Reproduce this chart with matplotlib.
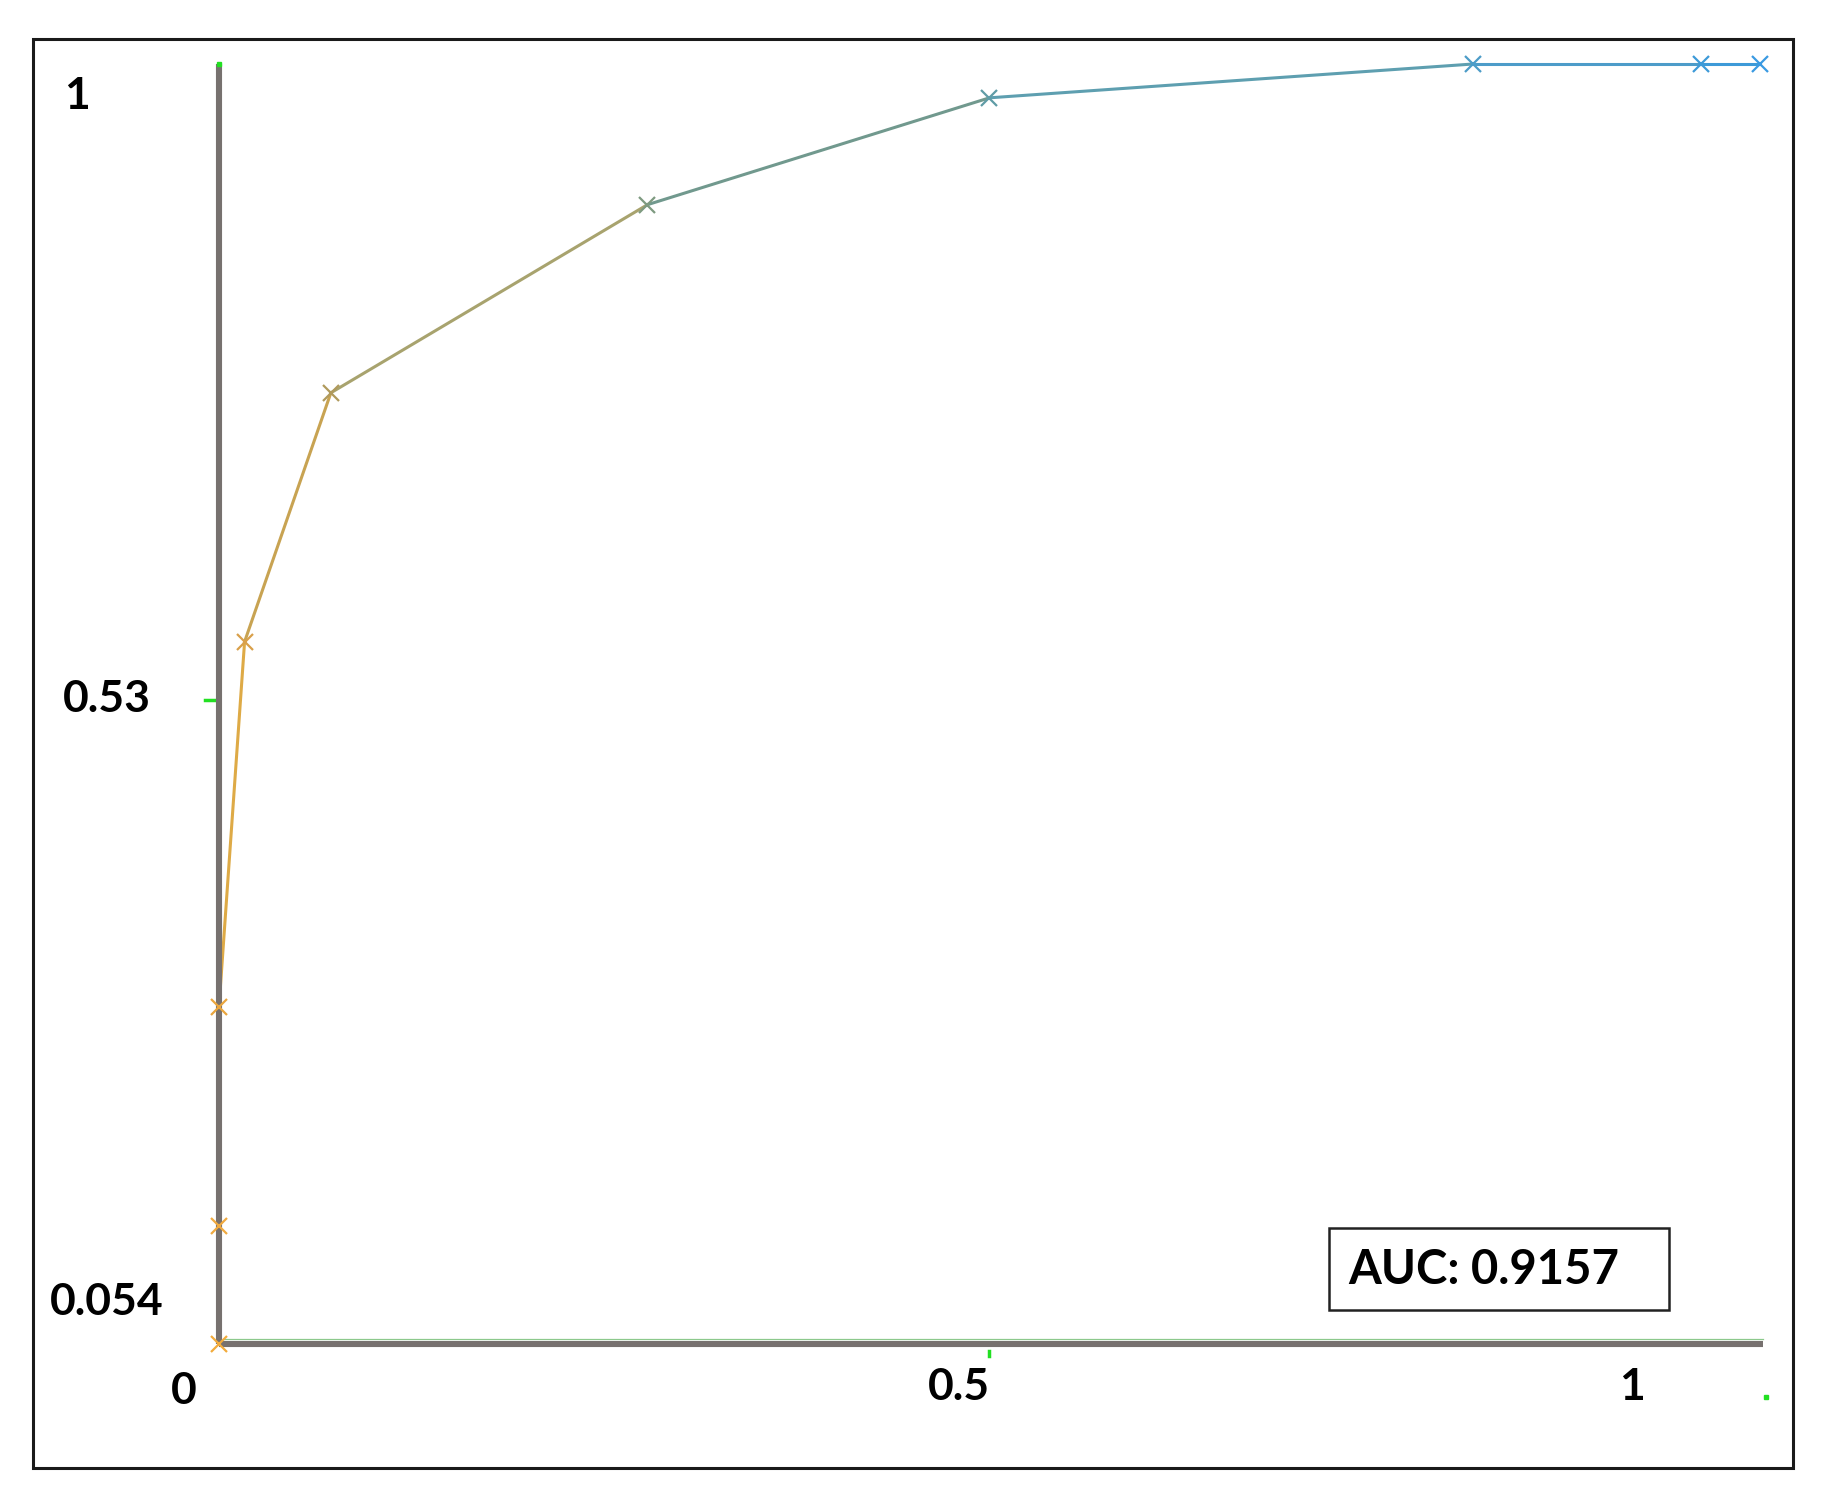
import numpy as np
import matplotlib
matplotlib.use("Agg")
import matplotlib.pyplot as plt
from matplotlib.patches import Rectangle

# ROC points (false positive rate, true positive rate)
fpr = [0.0, 0.0, 0.0, 0.0166, 0.0726, 0.278, 0.5, 0.814, 0.962, 1.0]
tpr = [0.054, 0.141, 0.303, 0.573, 0.757, 0.896, 0.975, 1.0, 1.0, 1.0]
# colour of each point (threshold colouring, orange -> blue)
pt_colors = ["#f2ab3c", "#f0aa40", "#eaa63e", "#d9a04a", "#b09a5c",
             "#7e9a80", "#5f9ca6", "#4c9cc8", "#3d9ad8", "#3a9ae2"]
seg_colors = ["#e8a53c", "#e8a53c", "#deaa46", "#c8a352", "#a8a36e",
              "#71998e", "#5e9fb0", "#4d9cc9", "#3d9ad8"]

auc = 0.9157
y_labels = ["1", "0.53", "0.054"]
x_labels = ["0", "0.5", "1"]

fig = plt.figure(figsize=(18.28, 15.09), dpi=100)
fig.patch.set_facecolor("white")

# outer frame
fig.patches.append(Rectangle((0.018, 0.027), 0.963, 0.947, transform=fig.transFigure,
                             fill=False, edgecolor="#1a1a1a", linewidth=2.2))

ax = fig.add_axes([0.1198, 0.1093, 0.843, 0.8483])
ax.set_xlim(0, 1)
ax.set_ylim(0.054, 1)
ax.axis("off")

# axes lines (drawn over the curve, under the markers)
axis_gray = "#77716f"
ax.plot([0, 0], [0.054, 1], color=axis_gray, lw=4.4, clip_on=False, zorder=4.5,
        solid_capstyle="butt")
ax.plot([0, 1.002], [0.054, 0.054], color=axis_gray, lw=4.4, clip_on=False, zorder=4.5,
        solid_capstyle="butt")
ax.plot([0.003, 1.002], [0.0575, 0.0575], color="#8cc98c", lw=0.9, clip_on=False,
        zorder=4.6)

# little green tick marks
ax.plot([-0.009, -0.003], [0.53, 0.53], color="#22e022", lw=2.5, clip_on=False)
ax.plot([0.5, 0.5], [0.049, 0.045], color="#22e022", lw=2.5, clip_on=False)
ax.plot([0], [1.0], marker="s", ms=3, color="#22e022", clip_on=False, zorder=5)
ax.plot([1.004], [0.015], marker="s", ms=2.5, color="#22e022", clip_on=False)

# ROC curve, one segment per pair of points
for i in range(len(fpr) - 1):
    ax.plot(fpr[i:i + 2], tpr[i:i + 2], color=seg_colors[i], lw=2.2,
            clip_on=False, zorder=4)
for x, y, c in zip(fpr, tpr, pt_colors):
    ax.plot(x, y, marker="x", ms=12, mew=1.6, color=c, clip_on=False, zorder=6)

# tick labels
lab_kw = dict(fontsize=32, fontweight="bold", family=["Lato", "DejaVu Sans"],
              ha="center", va="center", clip_on=False)
ax.text(-0.092, 0.976, y_labels[0], **lab_kw)
ax.text(-0.073, 0.531, y_labels[1], **lab_kw)
ax.text(-0.073, 0.085, y_labels[2], **lab_kw)
ax.text(-0.023, 0.019, x_labels[0], **lab_kw)
ax.text(0.480, 0.022, x_labels[1], **lab_kw)
ax.text(0.917, 0.022, x_labels[2], **lab_kw)

# AUC box
fig.patches.append(Rectangle((1329 / 1828, 1 - 1310 / 1509), 340 / 1828, 82 / 1509,
                             transform=fig.transFigure, fill=False,
                             edgecolor="#222222", linewidth=1.8))
fig.text(1348 / 1828, 1 - 1270 / 1509, f"AUC: {auc}", fontsize=34, fontweight="bold",
         family=["Lato", "DejaVu Sans"], ha="left", va="center")

fig.savefig("out.png", dpi=100, facecolor="white")
